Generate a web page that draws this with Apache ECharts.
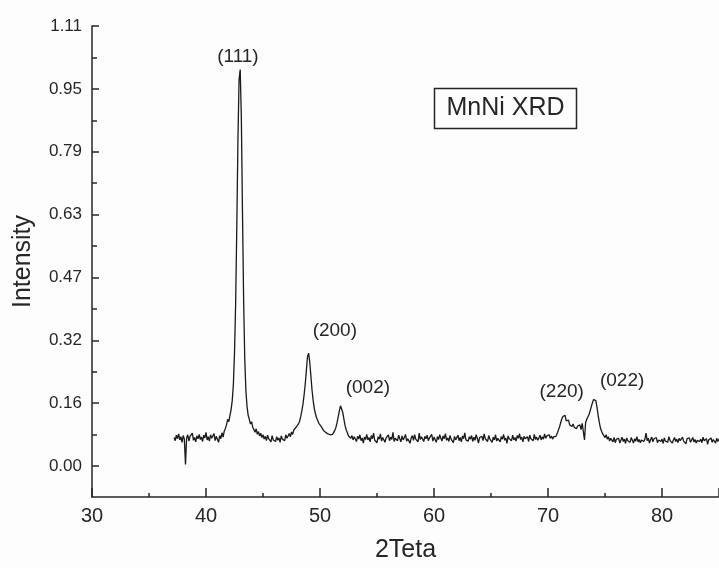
<!DOCTYPE html>
<html>
<head>
<meta charset="utf-8">
<script src="https://cdn.jsdelivr.net/npm/echarts@6/dist/echarts.min.js"></script>
<style>
  html, body { margin: 0; padding: 0; background: #fdfdfd; }
  #chart { width: 719px; height: 568px; }
</style>
</head>
<body>
<div id="chart"></div>
<script>
// ---- data ----
const xStart = 37.2;
const xStep = 0.1;
const intensity = [
  0.072,0.064,0.078,0.069,0.081,0.066,0.074,0.060,0.077,0.068,
  0.004,0.071,0.079,0.063,0.075,0.070,0.083,0.065,0.072,0.061,
  0.076,0.069,0.080,0.067,0.073,0.062,0.078,0.071,0.085,0.066,
  0.074,0.063,0.079,0.070,0.068,0.082,0.064,0.075,0.071,0.060,
  0.077,0.069,0.084,0.073,0.088,0.095,0.104,0.118,0.112,0.128,
  0.142,0.165,0.205,0.285,0.410,0.600,0.820,0.975,1.000,0.880,
  0.640,0.420,0.270,0.190,0.150,0.128,0.118,0.106,0.112,0.098,
  0.092,0.085,0.094,0.080,0.087,0.076,0.083,0.072,0.079,0.068,
  0.075,0.064,0.078,0.069,0.073,0.061,0.077,0.066,0.070,0.062,
  0.074,0.065,0.071,0.060,0.076,0.068,0.073,0.064,0.079,0.070,
  0.076,0.082,0.074,0.086,0.080,0.091,0.087,0.098,0.095,0.106,
  0.112,0.124,0.138,0.155,0.178,0.205,0.240,0.275,0.285,0.262,
  0.228,0.192,0.165,0.145,0.132,0.122,0.115,0.108,0.112,0.100,
  0.096,0.090,0.094,0.085,0.089,0.081,0.086,0.079,0.084,0.080,
  0.082,0.090,0.098,0.110,0.125,0.140,0.152,0.148,0.135,0.118,
  0.102,0.091,0.084,0.076,0.081,0.070,0.077,0.066,0.074,0.069,
  0.062,0.075,0.068,0.079,0.064,0.071,0.058,0.073,0.067,0.080,
  0.066,0.072,0.061,0.077,0.069,0.083,0.065,0.070,0.059,0.074,
  0.068,0.081,0.063,0.072,0.076,0.060,0.071,0.066,0.079,0.064,
  0.073,0.067,0.085,0.062,0.070,0.075,0.064,0.078,0.069,0.061,
  0.076,0.066,0.072,0.080,0.063,0.069,0.074,0.058,0.071,0.077,
  0.065,0.079,0.068,0.072,0.061,0.083,0.067,0.074,0.070,0.062,
  0.075,0.069,0.078,0.064,0.071,0.066,0.080,0.063,0.073,0.068,
  0.060,0.074,0.067,0.079,0.070,0.063,0.076,0.069,0.082,0.065,
  0.071,0.062,0.077,0.068,0.073,0.059,0.075,0.066,0.070,0.078,
  0.064,0.072,0.061,0.076,0.069,0.084,0.066,0.071,0.063,0.074,
  0.068,0.077,0.062,0.073,0.065,0.079,0.070,0.058,0.072,0.067,
  0.075,0.064,0.081,0.069,0.073,0.062,0.077,0.068,0.071,0.060,
  0.073,0.066,0.079,0.063,0.070,0.075,0.061,0.074,0.068,0.080,
  0.065,0.071,0.057,0.076,0.069,0.073,0.064,0.078,0.066,0.072,
  0.063,0.077,0.070,0.082,0.067,0.073,0.061,0.075,0.069,0.066,
  0.074,0.062,0.078,0.069,0.072,0.064,0.080,0.067,0.073,0.065,
  0.071,0.078,0.066,0.074,0.068,0.081,0.070,0.076,0.072,0.079,
  0.070,0.076,0.068,0.074,0.071,0.075,0.082,0.090,0.098,0.108,
  0.118,0.125,0.121,0.128,0.114,0.110,0.116,0.104,0.109,0.100,
  0.106,0.098,0.103,0.094,0.101,0.097,0.104,0.092,0.108,0.112,
  0.066,0.110,0.118,0.122,0.130,0.140,0.150,0.160,0.168,0.172,
  0.165,0.148,0.128,0.110,0.096,0.088,0.081,0.077,0.072,0.079,
  0.068,0.074,0.063,0.070,0.066,0.061,0.072,0.059,0.068,0.064,
  0.070,0.058,0.066,0.073,0.062,0.068,0.057,0.071,0.064,0.069,
  0.060,0.072,0.065,0.058,0.069,0.063,0.074,0.061,0.067,0.059,
  0.066,0.071,0.062,0.068,0.083,0.064,0.070,0.058,0.067,0.073,
  0.061,0.069,0.064,0.072,0.059,0.066,0.070,0.062,0.068,0.057,
  0.071,0.063,0.067,0.060,0.074,0.065,0.069,0.058,0.066,0.072,
  0.062,0.068,0.059,0.070,0.064,0.061,0.073,0.063,0.067,0.056,
  0.069,0.064,0.071,0.060,0.066,0.072,0.061,0.067,0.058,0.065,
  0.070,0.062,0.068,0.059,0.073,0.064,0.060,0.069,0.055,0.066,
  0.063,0.071,0.060,0.067,0.064,0.058,0.070,0.062,0.068,0.065
];
const yTickValues = [0, 0.1586, 0.3171, 0.4757, 0.6343, 0.7929, 0.9514, 1.11];
const yTickLabels = ["0.00", "0.16", "0.32", "0.47", "0.63", "0.79", "0.95", "1.11"];
const yMinorValues = [0.0793, 0.2379, 0.3964, 0.5550, 0.7136, 0.8721, 1.0307];
const peakNames = ["(111)", "(200)", "(002)", "(220)", "(022)"];
const peakLabelX = [42.8, 51.3, 54.2, 71.2, 76.5];
const peakLabelY = [1.032, 0.342, 0.198, 0.188, 0.216];
const legendText = "MnNi XRD";

// ---- build ----
const lineData = intensity.map((v, i) => [+(xStart + i * xStep).toFixed(2), v]);
const peakData = peakNames.map((n, i) => ({ value: [peakLabelX[i], peakLabelY[i]], name: n }));

const FONT = '"Liberation Sans", Arial, sans-serif';
const INK = '#262626';

const chart = echarts.init(document.getElementById('chart'));
chart.setOption({
  backgroundColor: '#fdfdfd',
  animation: false,
  grid: { left: 92, right: 0, top: 26, bottom: 69 },
  xAxis: {
    type: 'value', min: 30, max: 85, interval: 10,
    name: '2Teta', nameLocation: 'middle', nameGap: 41,
    nameTextStyle: { fontFamily: FONT, fontSize: 25, color: INK },
    axisLine: { show: true, onZero: false, lineStyle: { color: INK, width: 1.5 } },
    axisTick: { show: true, inside: true, length: 9, lineStyle: { color: INK, width: 1.5 } },
    minorTick: { show: true, splitNumber: 2, length: 4, lineStyle: { color: INK, width: 1.5 } },
    axisLabel: { fontFamily: FONT, fontSize: 20, color: INK, margin: 9, showMaxLabel: false },
    splitLine: { show: false }
  },
  yAxis: [{
    type: 'value', min: -0.078, max: 1.11,
    name: 'Intensity', nameLocation: 'middle', nameGap: 56,
    nameTextStyle: { fontFamily: FONT, fontSize: 25, color: INK },
    axisLine: { show: true, onZero: false, lineStyle: { color: INK, width: 1.5 } },
    axisTick: { show: true, inside: true, length: 7, customValues: yTickValues, lineStyle: { color: INK, width: 1.5 } },
    axisLabel: {
      fontFamily: FONT, fontSize: 17, color: INK, margin: 10,
      customValues: yTickValues,
      formatter: function (v) {
        let best = 0;
        for (let i = 0; i < yTickValues.length; i++) {
          if (Math.abs(yTickValues[i] - v) < Math.abs(yTickValues[best] - v)) best = i;
        }
        return yTickLabels[best];
      }
    },
    splitLine: { show: false }
  }, {
    type: 'value', min: -0.078, max: 1.11, position: 'left', offset: 0,
    axisLine: { show: false, onZero: false },
    axisTick: { show: true, inside: true, length: 5, customValues: yMinorValues, lineStyle: { color: INK, width: 1.5 } },
    axisLabel: { show: false },
    splitLine: { show: false }
  }],
  series: [{
    type: 'line',
    data: lineData,
    showSymbol: false,
    symbol: 'none',
    lineStyle: { color: '#1a1a1a', width: 1.3 },
    clip: true
  }, {
    type: 'scatter',
    data: peakData,
    symbolSize: 0,
    itemStyle: { opacity: 1 },
    label: {
      show: true, position: 'inside',
      formatter: p => p.name,
      fontFamily: FONT, fontSize: 19, color: INK, textBorderWidth: 0, opacity: 1
    },
    silent: true
  }],
  graphic: [{
    type: 'group', left: 432, top: 86,
    children: [{
      type: 'rect',
      shape: { x: 0, y: 0, width: 142, height: 40 },
      style: { fill: 'none', stroke: INK, lineWidth: 1.5 }
    }, {
      type: 'text', x: 71, y: 20,
      style: { text: legendText, fontFamily: FONT, fontSize: 25, fill: INK, align: 'center', verticalAlign: 'middle' }
    }]
  }]
});
</script>
</body>
</html>
